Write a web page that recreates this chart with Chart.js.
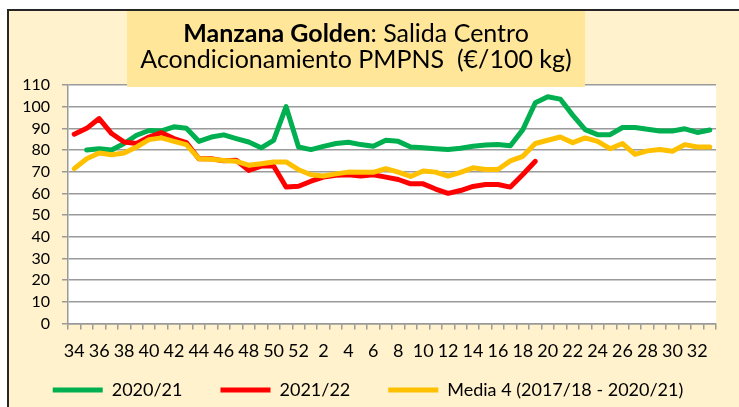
<!DOCTYPE html>
<html lang="es">
<head>
<meta charset="utf-8">
<title>Manzana Golden</title>
<script src="https://cdn.jsdelivr.net/npm/chart.js@4.4.0/dist/chart.umd.min.js"></script>
<style>
    body { margin: 0; background: #fff; }
    #fondo {
        position: absolute; left: 7px; top: 9px; right: 0; bottom: 0;
        background: #FFF2CC;
        border-left: 2px solid #262626;
        border-top: 2px solid #262626;
    }
    #grafico { position: absolute; left: 0; top: 0; }
</style>
</head>
<body>
<div id="fondo"></div>
<canvas id="grafico" width="739" height="407"></canvas>
<script>
// Semanas: de la 34 a la 52 y de la 1 a la 33
const semanas = [34, 35, 36, 37, 38, 39, 40, 41, 42, 43, 44, 45, 46, 47, 48, 49, 50, 51, 52,
    1, 2, 3, 4, 5, 6, 7, 8, 9, 10, 11, 12, 13, 14, 15, 16, 17, 18, 19, 20, 21, 22, 23, 24, 25,
    26, 27, 28, 29, 30, 31, 32, 33];

const campana2021 = [null, 80, 80.6, 80, 83, 86.8, 89, 88.8, 90.7, 90, 84, 86, 87, 85.3, 83.7, 81, 84.5,
    100, 81.4, 80.2, 81.7, 83, 83.6, 82.5, 81.7, 84.5, 84, 81.4, 81, 80.6, 80.2, 80.8, 81.7, 82.3,
    82.5, 82, 89.4, 101.8, 104.6, 103.5, 96.1, 89.4, 87.1, 87.1, 90.4, 90.4, 89.6, 88.8, 88.8,
    89.8, 88.1, 89.2];

const campana2122 = [87.3, 90, 94.5, 87.6, 83.7, 83, 86, 88, 85.3, 83.4, 76, 76, 75, 75.3, 70.6, 72.6,
    72.6, 62.9, 63.3, 65.6, 67.5, 68.3, 68.6, 68, 68.6, 67.5, 66.4, 64.4, 64.4, 62, 60, 61.3, 63.2,
    64.1, 64.1, 62.9, 68.7, 74.8];

const media4 = [71.4, 76, 78.6, 77.8, 78.6, 81.4, 84.8, 85.6, 84, 82.5, 76, 75.7, 75.2, 74.8, 73, 73.7,
    74.5, 74.5, 70.9, 68.6, 68, 69, 69.8, 69.7, 69.7, 71.4, 69.8, 67.8, 70.3, 69.8, 68, 69.7, 71.8,
    71, 71, 75, 77.1, 83, 84.5, 86, 83.4, 85.6, 84, 80.6, 83, 78, 79.6, 80.2, 79.4, 82.5, 81.4, 81.4];

const tituloNegrita = "Manzana Golden";
const tituloResto = ": Salida Centro";
const tituloLinea2 = "Acondicionamiento PMPNS  (€/100 kg)";

const gris = '#9a9a9a';

// Fondo blanco de la zona de trazado
const fondoBlanco = {
    id: 'fondoBlanco',
    beforeDraw(chart) {
        const a = chart.chartArea;
        const ctx = chart.ctx;
        ctx.save();
        ctx.fillStyle = '#ffffff';
        ctx.fillRect(a.left, a.top, a.right - a.left, a.bottom - a.top);
        ctx.restore();
    }
};

// Recolocamos la leyenda (el padding grande solo sirve para separar los elementos en horizontal)
const moverLeyenda = {
    id: 'moverLeyenda',
    afterLayout(chart) {
        const l = chart.legend;
        const pad = l.options.labels.padding;
        const dy = (l.top + pad + 9) - 390;
        l.top -= dy;
        l.bottom -= dy;
        l.left += 10;
        l.right += 10;
    }
};

// Caja amarilla del titulo (negrita + normal en la misma linea)
const cajaTitulo = {
    id: 'cajaTitulo',
    afterDraw(chart) {
        const ctx = chart.ctx;
        ctx.save();
        ctx.fillStyle = '#FFE699';
        ctx.fillRect(127, 11, 458, 76);
        const cx = 356;
        ctx.fillStyle = '#000';
        ctx.textBaseline = 'alphabetic';
        ctx.font = 'bold 25px Lato';
        const w1 = ctx.measureText(tituloNegrita).width;
        ctx.font = '25px Lato';
        const w2 = ctx.measureText(tituloResto).width;
        let x = cx - (w1 + w2) / 2;
        ctx.textAlign = 'left';
        ctx.font = 'bold 25px Lato';
        ctx.fillText(tituloNegrita, x, 42);
        ctx.font = '25px Lato';
        ctx.fillText(tituloResto, x + w1, 42);
        ctx.textAlign = 'center';
        ctx.fillText(tituloLinea2, cx, 68);
        ctx.restore();
    }
};

const datos1 = {
    label: "2020/21",
    data: campana2021,
    borderColor: '#00B050',
    backgroundColor: '#00B050',
    order: 3
};
const datos2 = {
    label: "2021/22",
    data: campana2122,
    borderColor: '#FF0000',
    backgroundColor: '#FF0000',
    order: 2
};
const datos3 = {
    label: "Media 4 (2017/18 - 2020/21)",
    data: media4,
    borderColor: '#FFC000',
    backgroundColor: '#FFC000',
    order: 1
};
[datos1, datos2, datos3].forEach(d => {
    d.borderWidth = 5;
    d.pointRadius = 0;
    d.tension = 0;
    d.borderCapStyle = 'round';
    d.borderJoinStyle = 'round';
    d.fill = false;
});

const config = {
    type: 'line',
    data: {
        labels: semanas,
        datasets: [datos1, datos2, datos3]
    },
    options: {
        responsive: false,
        devicePixelRatio: 1,
        animation: false,
        layout: {
            padding: { top: 85, left: 0, right: 23, bottom: -32 }
        },
        plugins: {
            title: { display: false },
            tooltip: { enabled: false },
            legend: {
                position: 'bottom',
                labels: {
                    usePointStyle: true,
                    pointStyle: 'line',
                    pointStyleWidth: 50,
                    padding: 38,
                    color: '#000',
                    font: { family: 'Lato', size: 18 },
                    sort: (a, b) => a.datasetIndex - b.datasetIndex
                }
            }
        },
        scales: {
            y: {
                min: 0,
                max: 110,
                afterFit: (s) => { s.width = 68; },
                ticks: {
                    stepSize: 10,
                    autoSkip: false,
                    padding: 12,
                    color: '#000',
                    font: { family: 'Lato', size: 16 }
                },
                grid: {
                    color: gris,
                    lineWidth: 1.5,
                    tickLength: 6
                },
                border: { display: true, color: gris, width: 1.5 }
            },
            x: {
                offset: true,
                ticks: {
                    autoSkip: false,
                    maxRotation: 0,
                    padding: 11,
                    color: '#000',
                    font: { family: 'Lato', size: 18 },
                    callback: function (valor, i) {
                        return i % 2 === 0 ? String(semanas[i]) : '';
                    }
                },
                grid: {
                    offset: true,
                    drawOnChartArea: false,
                    color: gris,
                    lineWidth: 1.5,
                    tickLength: 6
                },
                border: { display: true, color: gris, width: 1.5 }
            }
        }
    },
    plugins: [fondoBlanco, moverLeyenda, cajaTitulo]
};

const migrafico = document.getElementById('grafico');
const graficoActual = new Chart(migrafico, config);
</script>
</body>
</html>
